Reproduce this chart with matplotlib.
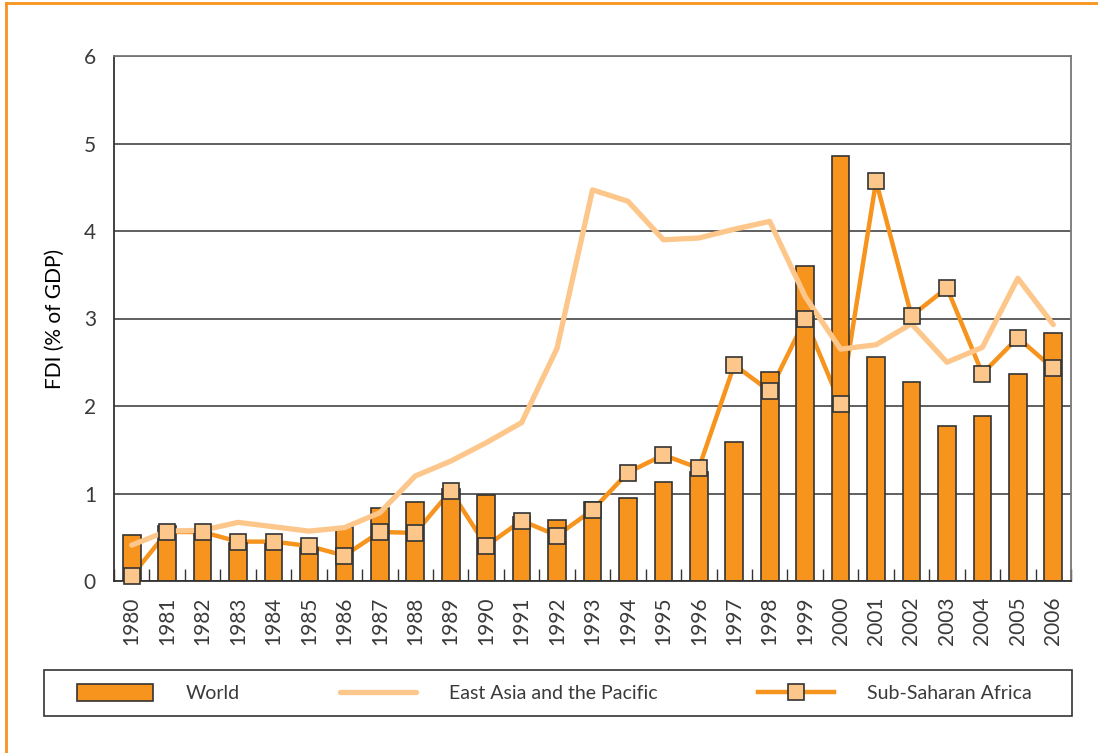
import matplotlib
matplotlib.use("Agg")
import matplotlib.pyplot as plt
from matplotlib.lines import Line2D
from matplotlib.patches import Patch, Rectangle
import numpy as np

# Data (FDI, % of GDP)
years = list(range(1980, 2007))
world = [0.53, 0.63, 0.60, 0.43, 0.42, 0.38, 0.62, 0.83, 0.90, 1.05,
         0.98, 0.73, 0.70, 0.90, 0.95, 1.13, 1.25, 1.59, 2.39, 3.60,
         4.86, 2.56, 2.27, 1.77, 1.89, 2.37, 2.84]
east_asia = [0.41, 0.57, 0.58, 0.67, 0.62, 0.57, 0.61, 0.78, 1.20, 1.37,
             1.58, 1.81, 2.66, 4.47, 4.34, 3.90, 3.92, 4.02, 4.11, 3.25,
             2.65, 2.70, 2.94, 2.50, 2.67, 3.46, 2.93]
ssa = [0.06, 0.56, 0.56, 0.45, 0.45, 0.40, 0.29, 0.56, 0.55, 1.03,
       0.40, 0.69, 0.52, 0.81, 1.24, 1.44, 1.29, 2.47, 2.17, 2.99,
       2.02, 4.57, 3.03, 3.35, 2.37, 2.78, 2.43]

ORANGE = '#F7941D'
LIGHT = '#FDC68A'
EDGE = '#333333'

plt.rcParams['font.family'] = ['Lato', 'Liberation Sans', 'DejaVu Sans']
plt.rcParams['font.weight'] = 'normal'
plt.rcParams['text.color'] = '#3a3a3a'
plt.rcParams['xtick.color'] = '#3a3a3a'
plt.rcParams['ytick.color'] = '#3a3a3a'

fig = plt.figure(figsize=(10.98, 7.53), dpi=100)
ax = fig.add_axes([114 / 1098, 1 - 581 / 753, 957 / 1098, 525 / 753])

x = np.arange(len(years))

# Sub-Saharan line sits behind the bars, markers on top
ax.plot(x, ssa, color=ORANGE, lw=3.2, zorder=1.5, solid_capstyle='round')
ax.bar(x, world, width=0.5, color=ORANGE, edgecolor=EDGE, linewidth=1.2, zorder=2)
ax.plot(x, east_asia, color=LIGHT, lw=3.8, zorder=3, solid_capstyle='round')
ax.plot(x, ssa, linestyle='none', marker='s', markersize=12,
        markerfacecolor=LIGHT, markeredgecolor=EDGE, markeredgewidth=1.2,
        zorder=4, clip_on=False)

ax.set_xlim(-0.5, len(years) - 0.5)
ax.set_ylim(0, 6)
ax.set_yticks(range(0, 7))
ax.set_xticks(x)
ax.set_xticklabels([str(y) for y in years], rotation=90, fontsize=15)
ax.set_xticks(np.arange(-0.5, len(years), 1.0), minor=True)
ax.tick_params(axis='x', which='major', length=0, pad=11)
ax.tick_params(axis='x', which='minor', direction='in', length=9,
               width=1.0, color=EDGE)
ax.tick_params(axis='y', length=0, pad=13, labelsize=15)
ax.yaxis.grid(True, color='#444444', linewidth=1.2, zorder=0)
ax.set_axisbelow(True)

for side in ['left', 'bottom']:
    ax.spines[side].set_color('#333333')
    ax.spines[side].set_linewidth(1.3)
for side in ['top', 'right']:
    ax.spines[side].set_color('#777777')
    ax.spines[side].set_linewidth(1.3)

ax.set_ylabel('FDI (% of GDP)', fontsize=15, fontweight='normal', labelpad=14)

# Legend across the bottom, frame drawn separately
handles = [
    Patch(facecolor=ORANGE, edgecolor=EDGE, linewidth=1.2),
    Line2D([], [], color=LIGHT, lw=3.8, solid_capstyle='round'),
    Line2D([], [], color=ORANGE, lw=3.2, marker='s', markersize=12,
           markerfacecolor=LIGHT, markeredgecolor=EDGE, markeredgewidth=1.2),
]
labels = ['World', 'East Asia and the Pacific', 'Sub-Saharan Africa']
fig.add_artist(Rectangle((44 / 1098, 1 - 716 / 753), 1028 / 1098, 46 / 753,
                         transform=fig.transFigure, facecolor='white',
                         edgecolor='#333333', linewidth=1.2))
leg = fig.legend(handles, labels, ncol=3, mode='expand',
                 loc='center left',
                 bbox_to_anchor=(77 / 1098, 1 - 716 / 753, 955 / 1098, 46 / 753),
                 fontsize=14, frameon=False,
                 handlelength=3.9, handleheight=1.0, handletextpad=1.7,
                 borderpad=0.0, borderaxespad=0.0)

# Orange frame around the panel (top and left edges visible)
fig.add_artist(Line2D([6 / 1098, 6 / 1098], [0, 1 - 3 / 753],
                      transform=fig.transFigure, color=ORANGE, lw=2))
fig.add_artist(Line2D([6 / 1098, 1], [1 - 3 / 753, 1 - 3 / 753],
                      transform=fig.transFigure, color=ORANGE, lw=2))

fig.savefig('out.png', dpi=100)
